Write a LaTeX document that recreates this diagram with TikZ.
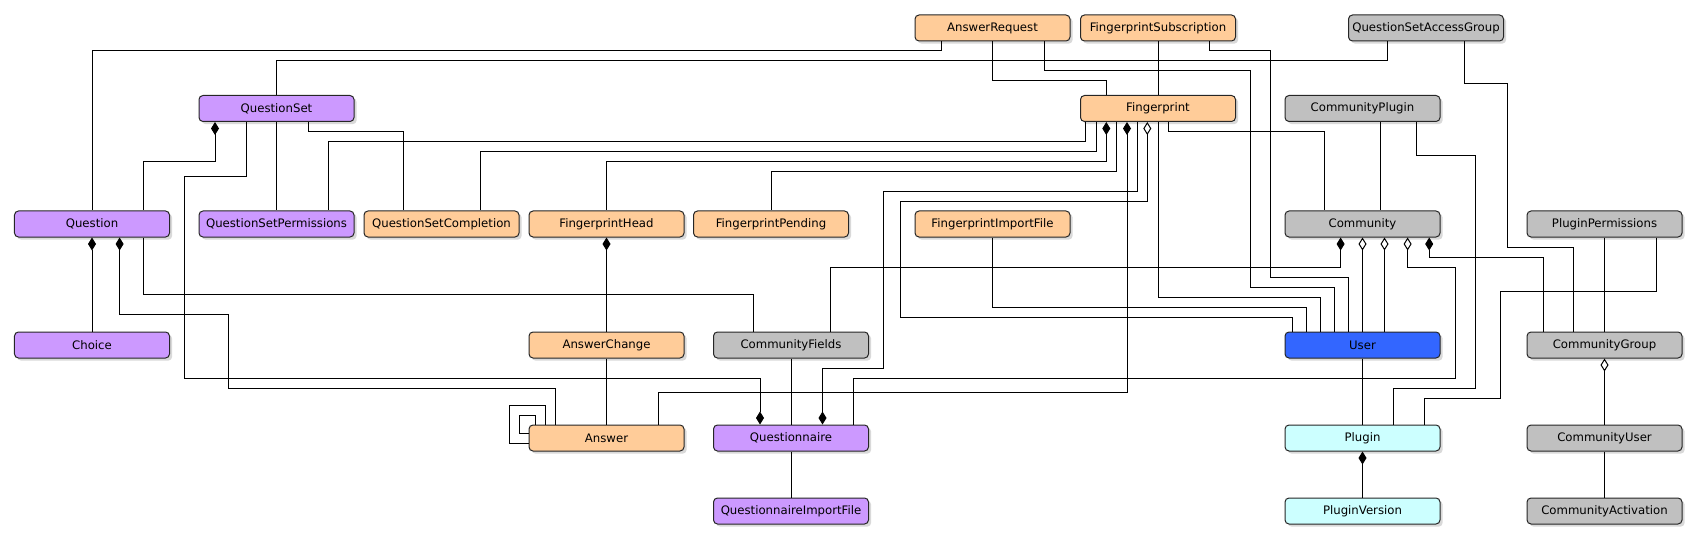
\documentclass[tikz,border=0pt]{standalone}
\usepackage{fontspec}
\setmainfont{DejaVu Sans}
\usepackage{xcolor}
\usepackage{tikz}
\usetikzlibrary{arrows.meta, shadows, positioning}

\definecolor{qpurple}{HTML}{CC99FF}
\definecolor{fporange}{HTML}{FFCC99}
\definecolor{cgray}{HTML}{C0C0C0}
\definecolor{ublue}{HTML}{3366FF}
\definecolor{pcyan}{HTML}{CCFFFF}

\begin{document}
\begin{tikzpicture}[
    x=0.3mm, y=-0.3mm,
    box/.style={rectangle, rounded corners=1.2mm, draw=black!85, line width=0.3mm, minimum width=46.5mm, minimum height=7.8mm, inner sep=1pt, align=center, font=\fontsize{10}{12}\selectfont, drop shadow={shadow xshift=0.8mm, shadow yshift=-0.8mm, opacity=0.25, fill=black!60}},
    purplebox/.style={box, fill=qpurple},
    orangebox/.style={box, fill=fporange},
    graybox/.style={box, fill=cgray},
    link/.style={line width=0.3mm, black},
    comp/.style={link, {Diamond[length=3.9mm, width=2.4mm]}-},
    aggr/.style={link, {Diamond[length=3.9mm, width=2.4mm, fill=white]}-}
]
\useasboundingbox (0,0) rectangle (1697,546);

% top rows
\node[orangebox] (answerrequest) at (992.5,28) {AnswerRequest};
\node[orangebox] (fpsubscription) at (1158,28) {FingerprintSubscription};
\node[graybox] (qsaccessgroup) at (1426,28) {QuestionSetAccessGroup};
\node[purplebox] (questionset) at (276.5,108.5) {QuestionSet};
\node[orangebox] (fingerprint) at (1158,108.5) {Fingerprint};
\node[graybox] (communityplugin) at (1362.5,108.5) {CommunityPlugin};

\node[purplebox] (question) at (92,224) {Question};
\node[purplebox] (qspermissions) at (276.5,224) {QuestionSetPermissions};
\node[orangebox] (qscompletion) at (441.5,224) {QuestionSetCompletion};
\node[orangebox] (fphead) at (606.5,224) {FingerprintHead};
\node[orangebox] (fppending) at (771,224) {FingerprintPending};
\node[orangebox] (fpimportfile) at (992.5,224) {FingerprintImportFile};
\node[graybox] (community) at (1362.5,224) {Community};
\node[graybox] (pluginperms) at (1604.5,224) {PluginPermissions};

\node[purplebox] (choice) at (92,345) {Choice};
\node[orangebox] (answerchange) at (606.5,345) {AnswerChange};
\node[graybox] (communityfields) at (791,345) {CommunityFields};
\node[box, fill=ublue] (user) at (1362.5,345) {User};
\node[graybox] (communitygroup) at (1604.5,345) {CommunityGroup};

\node[orangebox] (answer) at (606.5,438) {Answer};
\node[purplebox] (questionnaire) at (791,438) {Questionnaire};
\node[box, fill=pcyan] (plugin) at (1362.5,438) {Plugin};
\node[graybox] (communityuser) at (1604.5,438) {CommunityUser};

\node[purplebox, below=13.8mm of questionnaire] (qnimportfile) {QuestionnaireImportFile};
\node[box, fill=pcyan, below=13.8mm of plugin] (pluginversion) {PluginVersion};
\node[graybox, below=13.8mm of communityuser] (communityactivation) {CommunityActivation};

% straight links
\draw[link] (fpsubscription) -- (fingerprint);
\draw[link] (questionset) -- (qspermissions);
\draw[comp] (question) -- (choice);
\draw[comp] (fphead) -- (answerchange);
\draw[link] (answerchange) -- (answer);
\draw[link] (communityfields) -- (questionnaire);
\draw[link] (questionnaire) -- (qnimportfile);
\draw[aggr] (community) -- (user);
\draw[aggr] (community.south -| 1384.5,0) -- (user.north -| 1384.5,0);
\draw[link] (communityplugin.south -| 1380.4,0) -- (community.north -| 1380.4,0);
\draw[link] (user) -- (plugin);
\draw[comp] (plugin) -- (pluginversion);
\draw[link] (pluginperms) -- (communitygroup);
\draw[aggr] (communitygroup) -- (communityuser);
\draw[link] (communityuser) -- (communityactivation);

% answer request
\draw[link] (answerrequest.south -| 941,0) |- (92,50.3) -- (question.north);
\draw[link] (answerrequest.south) |- (1106.3,80.3) -- (fingerprint.north -| 1106.3,0);
\draw[link] (answerrequest.south -| 1044,0) |- (1250.3,70.3) |- (1334.6,287.3) -- (user.north -| 1334.6,0);
\draw[link] (fpsubscription.south -| 1209.3,0) |- (1270.5,50.3) |- (1348.6,277.3) -- (user.north -| 1348.6,0);

% question set
\draw[link] (questionset.north) |- (1387.5,60.3) -- (qsaccessgroup.south -| 1387.5,0);
\draw[link] (questionset.south -| 308,0) |- (403,131.3) -- (qscompletion.north -| 403,0);
\draw[comp] (questionset.south -| 215,0) |- (143,161.3) -- (question.north -| 143,0);
\draw[comp] (questionnaire.north -| 760,0) |- (184,378.3) |- (246,176.3) -- (questionset.south -| 246,0);

% question
\draw[comp] (question.south -| 119.6,0) |- (228,314) |- (555.5,388.3) -- (answer.north -| 555.5,0);
\draw[link] (question.south -| 143,0) |- (753,294.3) -- (communityfields.north -| 753,0);

% fingerprint
\draw[link] (fingerprint.south -| 1085.7,0) |- (328,141.3) -- (qspermissions.north -| 328,0);
\draw[link] (fingerprint.south -| 1096.7,0) |- (480,151.3) -- (qscompletion.north -| 480,0);
\draw[comp] (fingerprint.south -| 1106.3,0) |- (606.5,161.3) -- (fphead.north);
\draw[link] (fingerprint.south -| 1116.3,0) |- (771,171.3) -- (fppending.north);
\draw[comp] (fingerprint.south -| 1127,0) |- (658,392.3) -- (answer.north -| 658,0);
\draw[comp] (questionnaire.north -| 822.5,0) |- (883.5,368.3) |- (1137.3,191.3) -- (fingerprint.south -| 1137.3,0);
\draw[aggr] (fingerprint.south -| 1147.3,0) |- (900,201.3) |- (1292.7,317.3) -- (user.north -| 1292.7,0);
\draw[link] (fingerprint.south) |- (1320.7,297.3) -- (user.north -| 1320.7,0);
\draw[link] (fingerprint.south -| 1168.3,0) |- (1324.5,131.3) -- (community.north -| 1324.5,0);
\draw[link] (fpimportfile.south) |- (1306.7,307.3) -- (user.north -| 1306.7,0);

% community
\draw[comp] (community.south -| 1340.6,0) |- (830,267.3) -- (communityfields.north -| 830,0);
\draw[aggr] (community.south -| 1407.6,0) |- (1455.7,267.3) |- (853,378.3) -- (questionnaire.north -| 853,0);
\draw[comp] (community.south -| 1429.2,0) |- (1543,257.3) -- (communitygroup.north -| 1543,0);
\draw[link] (communityplugin.south -| 1416.4,0) |- (1475.3,156) |- (1393,388.3) -- (plugin.north -| 1393,0);
\draw[link] (qsaccessgroup.south -| 1464.4,0) |- (1507.3,83.3) |- (1573.5,247.3) -- (communitygroup.north -| 1573.5,0);
\draw[link] (pluginperms.south -| 1656.4,0) |- (1500.4,291) |- (1424.3,398.3) -- (plugin.north -| 1424.3,0);

% answer self links
\draw[link] (answer.north -| 545.7,0) |- (509.3,405.7) |- (answer.west |- 0,443.3);
\draw[link] (answer.north -| 535.7,0) |- (519.6,415.7) |- (answer.west |- 0,433.3);

\end{tikzpicture}
\end{document}
